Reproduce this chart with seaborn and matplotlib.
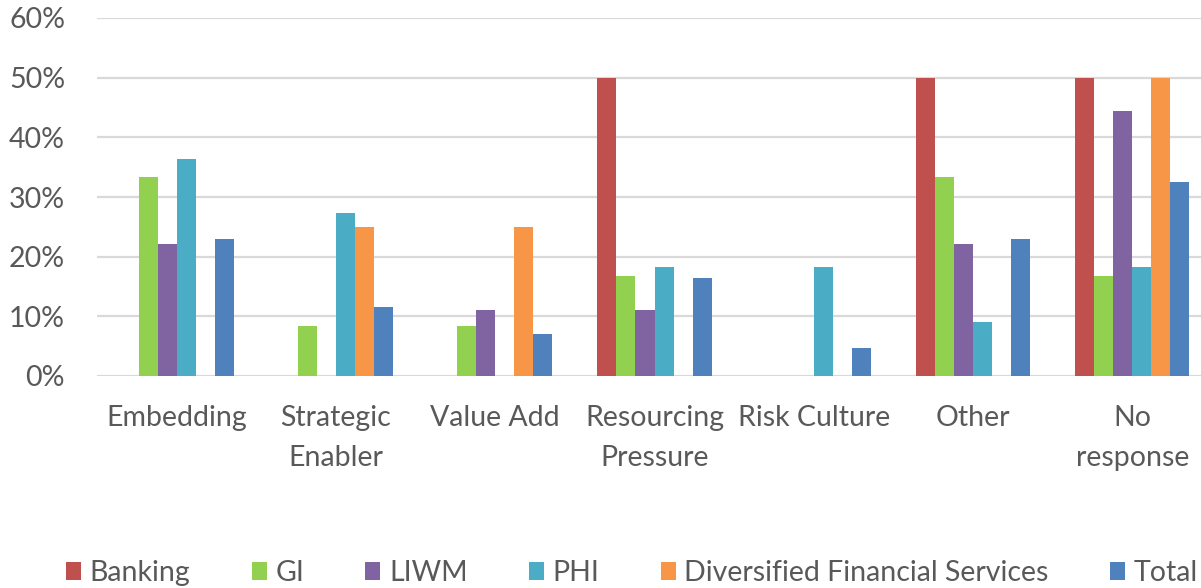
import matplotlib
matplotlib.use("Agg")
import matplotlib.pyplot as plt
import seaborn as sns
import pandas as pd
from matplotlib.patches import Patch

categories = ["Embedding", "Strategic\nEnabler", "Value Add", "Resourcing\nPressure",
              "Risk Culture", "Other", "No\nresponse"]
series = ["Banking", "GI", "LIWM", "PHI", "Diversified Financial Services", "Total"]
banking = [0.0, 0.0, 0.0, 0.50, 0.0, 0.50, 0.50]
gi      = [0.333, 0.083, 0.083, 0.167, 0.0, 0.333, 0.167]
liwm    = [0.222, 0.0, 0.111, 0.111, 0.0, 0.222, 0.444]
phi     = [0.364, 0.273, 0.0, 0.182, 0.182, 0.091, 0.182]
dfs     = [0.0, 0.25, 0.25, 0.0, 0.0, 0.0, 0.50]
total   = [0.23, 0.115, 0.07, 0.164, 0.047, 0.23, 0.325]
yticks = [0.0, 0.1, 0.2, 0.3, 0.4, 0.5, 0.6]
ytick_labels = ["0%", "10%", "20%", "30%", "40%", "50%", "60%"]
colors = ["#C0504D", "#92D050", "#8064A2", "#4BACC6", "#F79646", "#4F81BD"]

values = [banking, gi, liwm, phi, dfs, total]
rows = []
for s, vals in zip(series, values):
    for c, v in zip(categories, vals):
        rows.append({"category": c, "series": s, "value": v})
df = pd.DataFrame(rows)

sns.set_theme(style="white")
plt.rcParams["font.family"] = ["Lato", "DejaVu Sans"]

W, H = 1201, 588
FS = 20.5
fig = plt.figure(figsize=(W / 100, H / 100), dpi=100)
ax = fig.add_axes([97 / W, (H - 376) / H, 1115 / W, 358 / H])

sns.barplot(data=df, x="category", y="value", hue="series", order=categories,
            hue_order=series, palette=colors, width=0.716, gap=0, saturation=1,
            linewidth=0, ax=ax, legend=False, errorbar=None)

ax.set_ylim(0, 0.6)
ax.set_xlim(-0.5, len(categories) - 0.5)
ax.set_yticks(yticks)
ax.set_yticklabels(ytick_labels)
for y in yticks:
    ax.axhline(y, color="#D9D9D9", lw=1.6, zorder=0)
for sp in ax.spines.values():
    sp.set_visible(False)
ax.set_xlabel("")
ax.set_ylabel("")
ax.tick_params(axis="y", length=0, pad=23, labelsize=FS, labelcolor="#595959")
ax.tick_params(axis="x", length=0, pad=21, labelsize=FS, labelcolor="#595959")
for lab in ax.get_xticklabels():
    lab.set_linespacing(1.65)

handles = [Patch(facecolor=c, edgecolor="none") for c in colors]
leg = fig.legend(handles, series, ncol=6, loc="lower left",
                 bbox_to_anchor=(66 / W, 2 / H), frameon=False,
                 fontsize=FS, handlelength=0.53, handleheight=0.6,
                 handletextpad=0.3, columnspacing=2.15, borderpad=0,
                 borderaxespad=0)
for t in leg.get_texts():
    t.set_color("#595959")

fig.savefig("out.png", dpi=100)
